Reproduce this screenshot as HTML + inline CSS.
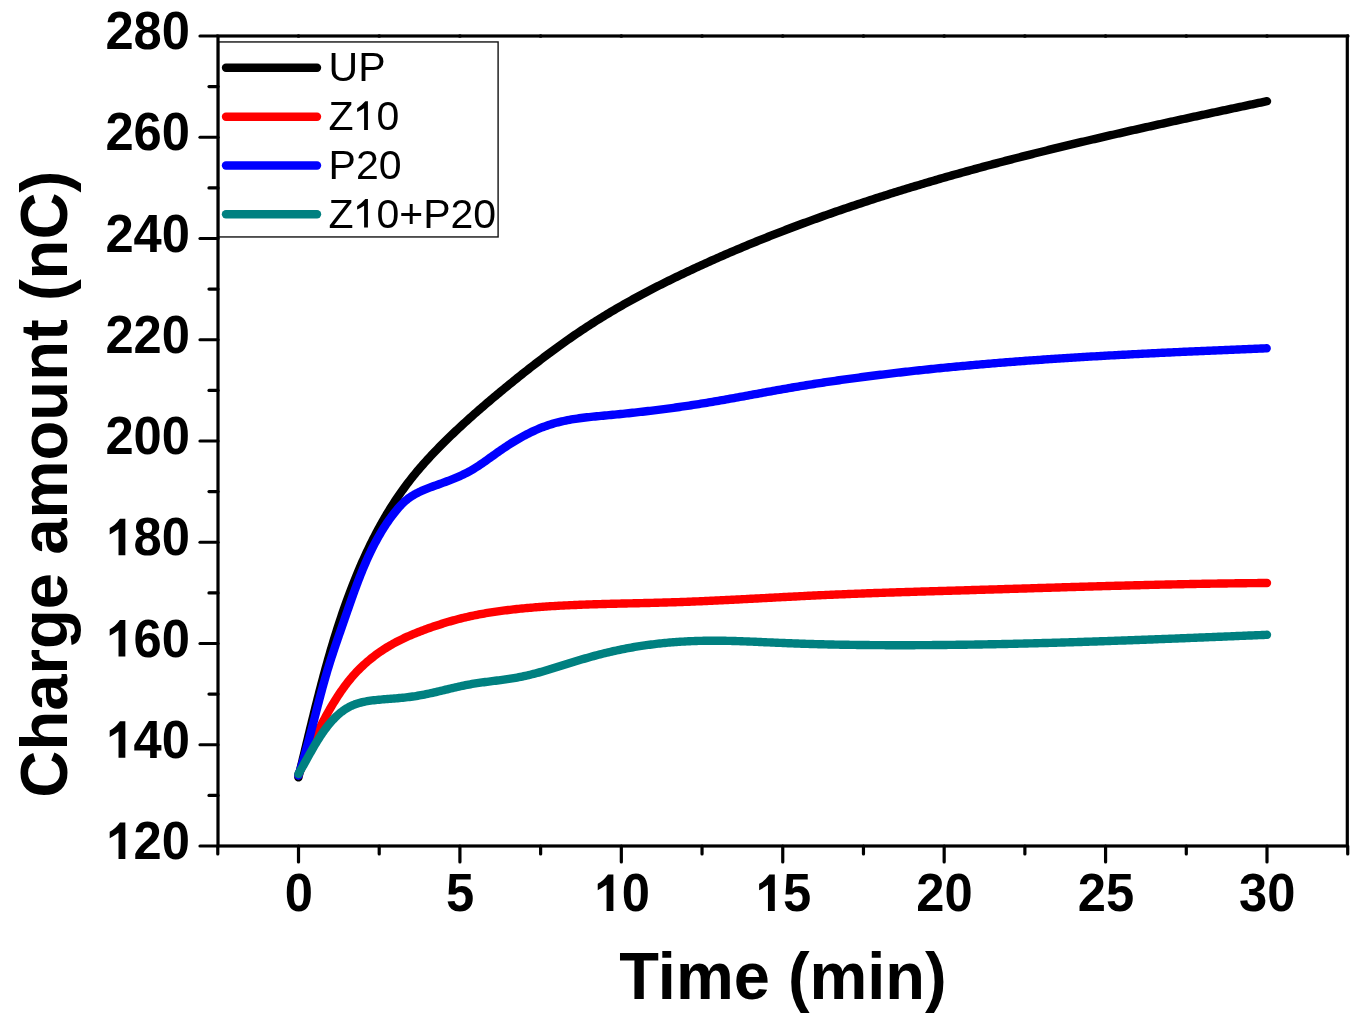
<!DOCTYPE html>
<html><head><meta charset="utf-8"><title>Charge amount vs Time</title>
<style>html,body{margin:0;padding:0;background:#fff;width:1370px;height:1034px;overflow:hidden}
svg{display:block;font-family:"Liberation Sans",sans-serif;will-change:transform}</style></head>
<body>
<svg width="1370" height="1034" viewBox="0 0 1370 1034"><path d="M298.40,777.40 L298.90,775.34 L299.41,773.28 L299.91,771.22 L300.41,769.15 L300.91,767.09 L301.41,765.02 L301.91,762.96 L302.41,760.89 L302.90,758.83 L303.40,756.76 L303.90,754.70 L304.40,752.63 L304.90,750.56 L305.39,748.49 L305.89,746.42 L306.39,744.36 L306.89,742.29 L307.39,740.22 L307.88,738.15 L308.38,736.08 L308.88,734.01 L309.38,731.94 L309.89,729.87 L310.39,727.80 L310.89,725.73 L311.40,723.66 L311.90,721.59 L312.41,719.52 L312.92,717.45 L313.43,715.38 L313.94,713.32 L314.45,711.25 L314.96,709.18 L315.48,707.11 L316.00,705.04 L316.52,702.98 L317.04,700.91 L317.56,698.84 L318.09,696.78 L318.62,694.71 L319.15,692.65 L319.68,690.58 L320.21,688.52 L320.75,686.46 L321.29,684.39 L321.84,682.33 L322.38,680.27 L322.93,678.21 L323.48,676.15 L324.04,674.10 L324.59,672.04 L325.16,669.98 L325.72,667.93 L326.29,665.87 L326.86,663.82 L327.43,661.77 L328.01,659.72 L328.60,657.67 L329.18,655.62 L329.77,653.57 L330.37,651.53 L330.96,649.48 L331.57,647.44 L332.17,645.39 L332.78,643.35 L333.40,641.31 L334.02,639.28 L334.64,637.24 L335.27,635.21 L335.91,633.17 L336.54,631.14 L337.19,629.11 L337.84,627.08 L338.49,625.06 L339.15,623.03 L339.81,621.01 L340.48,618.99 L341.16,616.97 L341.84,614.95 L342.52,612.93 L343.22,610.92 L343.91,608.91 L344.62,606.90 L345.33,604.89 L346.04,602.88 L346.76,600.88 L347.49,598.88 L348.22,596.88 L348.97,594.88 L349.71,592.89 L350.47,590.90 L351.22,588.91 L351.99,586.92 L352.76,584.93 L353.54,582.95 L354.33,580.97 L355.13,578.99 L355.93,577.02 L356.74,575.04 L357.55,573.07 L358.37,571.11 L359.21,569.14 L360.04,567.18 L360.89,565.22 L361.74,563.27 L362.60,561.31 L363.47,559.37 L364.35,557.42 L365.24,555.48 L366.13,553.54 L367.03,551.61 L367.94,549.68 L368.86,547.76 L369.79,545.84 L370.72,543.92 L371.67,542.01 L372.62,540.11 L373.58,538.21 L374.56,536.31 L375.54,534.42 L376.53,532.53 L377.52,530.65 L378.53,528.78 L379.55,526.91 L380.58,525.05 L381.61,523.19 L382.66,521.34 L383.72,519.49 L384.78,517.65 L385.86,515.82 L386.94,514.00 L388.04,512.18 L389.15,510.36 L390.26,508.56 L391.39,506.76 L392.53,504.97 L393.68,503.18 L394.84,501.41 L396.01,499.64 L397.19,497.87 L398.38,496.12 L399.58,494.37 L400.79,492.64 L402.02,490.91 L403.26,489.18 L404.50,487.47 L405.76,485.77 L407.03,484.07 L408.32,482.38 L409.61,480.70 L410.92,479.03 L412.23,477.37 L413.56,475.72 L414.90,474.08 L416.25,472.44 L417.61,470.81 L418.98,469.19 L420.37,467.58 L421.76,465.98 L423.16,464.38 L424.57,462.80 L425.99,461.22 L427.41,459.64 L428.85,458.08 L430.29,456.52 L431.75,454.96 L433.21,453.42 L434.67,451.88 L436.15,450.34 L437.63,448.82 L439.12,447.29 L440.61,445.78 L442.11,444.27 L443.62,442.77 L445.13,441.27 L446.65,439.77 L448.17,438.29 L449.70,436.80 L451.23,435.33 L452.77,433.85 L454.31,432.38 L455.86,430.92 L457.41,429.46 L458.96,428.01 L460.52,426.56 L462.09,425.11 L463.66,423.67 L465.23,422.24 L466.81,420.81 L468.39,419.38 L469.97,417.95 L471.56,416.53 L473.15,415.12 L474.75,413.71 L476.35,412.30 L477.95,410.90 L479.56,409.50 L481.17,408.10 L482.78,406.71 L484.40,405.32 L486.01,403.93 L487.63,402.55 L489.26,401.17 L490.89,399.79 L492.51,398.41 L494.15,397.04 L495.78,395.68 L497.42,394.31 L499.06,392.95 L500.70,391.59 L502.34,390.23 L503.98,388.88 L505.63,387.52 L507.28,386.17 L508.93,384.83 L510.58,383.48 L512.23,382.14 L513.89,380.80 L515.55,379.46 L517.20,378.13 L518.87,376.80 L520.53,375.47 L522.19,374.14 L523.86,372.82 L525.53,371.50 L527.20,370.18 L528.87,368.86 L530.55,367.55 L532.23,366.25 L533.91,364.94 L535.59,363.64 L537.28,362.34 L538.97,361.05 L540.66,359.76 L542.35,358.47 L544.04,357.19 L545.74,355.91 L547.44,354.64 L549.15,353.37 L550.85,352.10 L552.56,350.84 L554.27,349.58 L555.99,348.32 L557.71,347.07 L559.43,345.83 L561.15,344.59 L562.88,343.35 L564.61,342.12 L566.34,340.89 L568.08,339.67 L569.82,338.45 L571.56,337.24 L573.31,336.03 L575.06,334.83 L576.81,333.63 L578.57,332.44 L580.33,331.26 L582.10,330.07 L583.86,328.90 L585.64,327.73 L587.41,326.56 L589.19,325.40 L590.97,324.25 L592.76,323.10 L594.55,321.96 L596.34,320.82 L598.14,319.69 L599.95,318.57 L601.75,317.45 L603.56,316.34 L605.38,315.23 L607.19,314.13 L609.02,313.03 L610.84,311.94 L612.67,310.86 L614.50,309.78 L616.34,308.71 L618.18,307.64 L620.02,306.58 L621.86,305.52 L623.71,304.47 L625.56,303.42 L627.42,302.38 L629.28,301.34 L631.14,300.31 L633.00,299.28 L634.87,298.26 L636.74,297.24 L638.61,296.23 L640.49,295.22 L642.37,294.22 L644.25,293.22 L646.13,292.22 L648.02,291.23 L649.91,290.25 L651.80,289.27 L653.69,288.29 L655.59,287.32 L657.49,286.35 L659.39,285.38 L661.29,284.42 L663.20,283.47 L665.10,282.52 L667.01,281.57 L668.92,280.62 L670.84,279.68 L672.75,278.74 L674.67,277.81 L676.59,276.88 L678.51,275.95 L680.43,275.03 L682.35,274.11 L684.28,273.20 L686.20,272.28 L688.13,271.37 L690.06,270.47 L691.99,269.57 L693.92,268.67 L695.86,267.77 L697.79,266.88 L699.73,265.99 L701.67,265.10 L703.61,264.21 L705.55,263.33 L707.49,262.46 L709.43,261.58 L711.38,260.71 L713.32,259.84 L715.27,258.98 L717.22,258.11 L719.17,257.26 L721.12,256.40 L723.07,255.55 L725.02,254.70 L726.98,253.85 L728.93,253.01 L730.89,252.16 L732.85,251.33 L734.81,250.49 L736.77,249.66 L738.73,248.83 L740.69,248.01 L742.66,247.18 L744.63,246.36 L746.59,245.54 L748.56,244.73 L750.53,243.92 L752.50,243.11 L754.47,242.30 L756.44,241.50 L758.42,240.70 L760.39,239.90 L762.37,239.11 L764.35,238.32 L766.32,237.53 L768.30,236.74 L770.28,235.96 L772.27,235.18 L774.25,234.40 L776.23,233.63 L778.22,232.85 L780.20,232.08 L782.19,231.32 L784.18,230.55 L786.17,229.79 L788.15,229.03 L790.15,228.28 L792.14,227.52 L794.13,226.77 L796.12,226.02 L798.12,225.28 L800.11,224.54 L802.11,223.80 L804.11,223.06 L806.11,222.32 L808.11,221.59 L810.11,220.86 L812.11,220.13 L814.11,219.41 L816.11,218.68 L818.12,217.96 L820.12,217.25 L822.13,216.53 L824.13,215.82 L826.14,215.11 L828.15,214.40 L830.16,213.69 L832.17,212.99 L834.18,212.29 L836.19,211.59 L838.20,210.90 L840.22,210.20 L842.23,209.51 L844.25,208.82 L846.26,208.14 L848.28,207.45 L850.29,206.77 L852.31,206.09 L854.33,205.42 L856.35,204.74 L858.37,204.07 L860.39,203.40 L862.41,202.73 L864.43,202.07 L866.46,201.40 L868.48,200.74 L870.50,200.08 L872.53,199.43 L874.55,198.77 L876.58,198.12 L878.61,197.47 L880.63,196.82 L882.66,196.17 L884.69,195.53 L886.72,194.89 L888.75,194.25 L890.78,193.61 L892.81,192.98 L894.84,192.34 L896.88,191.71 L898.91,191.08 L900.94,190.46 L902.98,189.83 L905.01,189.21 L907.05,188.59 L909.08,187.97 L911.12,187.35 L913.16,186.73 L915.20,186.12 L917.23,185.51 L919.27,184.90 L921.31,184.29 L923.35,183.69 L925.39,183.08 L927.44,182.48 L929.48,181.88 L931.52,181.29 L933.56,180.69 L935.61,180.10 L937.65,179.50 L939.70,178.91 L941.74,178.32 L943.79,177.74 L945.83,177.15 L947.88,176.57 L949.93,175.99 L951.97,175.41 L954.02,174.83 L956.07,174.25 L958.12,173.68 L960.17,173.11 L962.22,172.54 L964.27,171.97 L966.32,171.40 L968.38,170.83 L970.43,170.27 L972.48,169.71 L974.53,169.14 L976.59,168.59 L978.64,168.03 L980.70,167.47 L982.75,166.92 L984.81,166.36 L986.86,165.81 L988.92,165.26 L990.98,164.71 L993.03,164.17 L995.09,163.62 L997.15,163.08 L999.21,162.54 L1001.27,162.00 L1003.33,161.46 L1005.39,160.92 L1007.45,160.38 L1009.51,159.85 L1011.57,159.32 L1013.63,158.78 L1015.69,158.25 L1017.76,157.72 L1019.82,157.20 L1021.88,156.67 L1023.95,156.14 L1026.01,155.62 L1028.07,155.10 L1030.14,154.58 L1032.20,154.06 L1034.27,153.54 L1036.34,153.02 L1038.40,152.51 L1040.47,151.99 L1042.53,151.48 L1044.60,150.97 L1046.67,150.46 L1048.74,149.95 L1050.81,149.44 L1052.87,148.94 L1054.94,148.43 L1057.01,147.93 L1059.08,147.42 L1061.15,146.92 L1063.22,146.42 L1065.29,145.92 L1067.36,145.42 L1069.43,144.92 L1071.51,144.43 L1073.58,143.93 L1075.65,143.44 L1077.72,142.95 L1079.79,142.45 L1081.87,141.96 L1083.94,141.47 L1086.01,140.98 L1088.09,140.50 L1090.16,140.01 L1092.23,139.52 L1094.31,139.04 L1096.38,138.56 L1098.46,138.07 L1100.53,137.59 L1102.61,137.11 L1104.68,136.63 L1106.76,136.15 L1108.84,135.67 L1110.91,135.20 L1112.99,134.72 L1115.07,134.24 L1117.14,133.77 L1119.22,133.30 L1121.30,132.82 L1123.38,132.35 L1125.45,131.88 L1127.53,131.41 L1129.61,130.94 L1131.69,130.47 L1133.77,130.01 L1135.85,129.54 L1137.92,129.07 L1140.00,128.61 L1142.08,128.14 L1144.16,127.68 L1146.24,127.21 L1148.32,126.75 L1150.40,126.29 L1152.48,125.83 L1154.56,125.37 L1156.64,124.91 L1158.72,124.45 L1160.80,123.99 L1162.88,123.53 L1164.96,123.08 L1167.04,122.62 L1169.13,122.16 L1171.21,121.71 L1173.29,121.25 L1175.37,120.80 L1177.45,120.34 L1179.53,119.89 L1181.61,119.44 L1183.70,118.99 L1185.78,118.53 L1187.86,118.08 L1189.94,117.63 L1192.02,117.18 L1194.11,116.73 L1196.19,116.28 L1198.27,115.83 L1200.35,115.39 L1202.44,114.94 L1204.52,114.49 L1206.60,114.04 L1208.68,113.60 L1210.77,113.15 L1212.85,112.70 L1214.93,112.26 L1217.01,111.81 L1219.10,111.37 L1221.18,110.92 L1223.26,110.48 L1225.35,110.04 L1227.43,109.59 L1229.51,109.15 L1231.59,108.70 L1233.68,108.26 L1235.76,107.82 L1237.84,107.38 L1239.93,106.93 L1242.01,106.49 L1244.09,106.05 L1246.17,105.61 L1248.26,105.17 L1250.34,104.73 L1252.42,104.28 L1254.50,103.84 L1256.59,103.40 L1258.67,102.96 L1260.75,102.52 L1262.83,102.08 L1264.92,101.64 L1267.00,101.20" fill="none" stroke="#000" stroke-width="8.4" stroke-linecap="round" stroke-linejoin="round"/>
<path d="M298.40,775.00 L299.08,773.42 L299.77,771.84 L300.46,770.26 L301.15,768.67 L301.84,767.09 L302.53,765.50 L303.22,763.91 L303.91,762.32 L304.61,760.73 L305.31,759.14 L306.01,757.55 L306.72,755.96 L307.42,754.37 L308.13,752.77 L308.85,751.18 L309.57,749.59 L310.29,748.00 L311.01,746.41 L311.74,744.82 L312.47,743.23 L313.21,741.65 L313.95,740.06 L314.69,738.48 L315.44,736.90 L316.20,735.32 L316.96,733.74 L317.73,732.16 L318.50,730.59 L319.28,729.02 L320.06,727.45 L320.85,725.89 L321.65,724.33 L322.45,722.77 L323.26,721.22 L324.07,719.67 L324.90,718.12 L325.73,716.58 L326.56,715.05 L327.41,713.51 L328.26,711.99 L329.12,710.46 L329.99,708.95 L330.87,707.43 L331.75,705.93 L332.65,704.42 L333.55,702.93 L334.46,701.44 L335.38,699.95 L336.32,698.48 L337.26,697.01 L338.21,695.54 L339.17,694.09 L340.14,692.64 L341.13,691.20 L342.12,689.77 L343.13,688.35 L344.15,686.94 L345.19,685.55 L346.23,684.16 L347.30,682.78 L348.37,681.42 L349.46,680.06 L350.57,678.72 L351.69,677.40 L352.82,676.08 L353.97,674.78 L355.14,673.50 L356.32,672.23 L357.52,670.97 L358.73,669.73 L359.95,668.50 L361.19,667.29 L362.45,666.10 L363.72,664.91 L365.00,663.75 L366.30,662.60 L367.60,661.46 L368.93,660.34 L370.26,659.23 L371.61,658.14 L372.98,657.07 L374.35,656.01 L375.74,654.97 L377.13,653.94 L378.55,652.93 L379.97,651.93 L381.40,650.95 L382.85,649.99 L384.30,649.04 L385.77,648.11 L387.25,647.19 L388.73,646.29 L390.23,645.41 L391.74,644.55 L393.26,643.70 L394.79,642.86 L396.32,642.04 L397.87,641.24 L399.42,640.45 L400.98,639.67 L402.55,638.91 L404.13,638.16 L405.71,637.42 L407.30,636.70 L408.90,635.99 L410.50,635.29 L412.11,634.61 L413.73,633.93 L415.35,633.27 L416.97,632.61 L418.60,631.97 L420.24,631.34 L421.88,630.71 L423.52,630.10 L425.16,629.49 L426.81,628.89 L428.46,628.30 L430.11,627.72 L431.77,627.15 L433.43,626.58 L435.09,626.02 L436.75,625.47 L438.41,624.93 L440.08,624.39 L441.75,623.87 L443.42,623.35 L445.09,622.83 L446.77,622.33 L448.44,621.84 L450.12,621.35 L451.80,620.87 L453.48,620.40 L455.17,619.94 L456.85,619.49 L458.54,619.05 L460.23,618.62 L461.93,618.19 L463.62,617.78 L465.32,617.37 L467.02,616.98 L468.72,616.59 L470.42,616.21 L472.12,615.84 L473.83,615.49 L475.54,615.14 L477.25,614.80 L478.96,614.47 L480.67,614.14 L482.38,613.83 L484.10,613.52 L485.82,613.23 L487.54,612.94 L489.26,612.65 L490.98,612.38 L492.70,612.11 L494.43,611.85 L496.15,611.60 L497.88,611.35 L499.60,611.11 L501.33,610.88 L503.06,610.65 L504.79,610.43 L506.52,610.22 L508.25,610.01 L509.99,609.80 L511.72,609.61 L513.45,609.41 L515.19,609.22 L516.92,609.04 L518.66,608.86 L520.39,608.68 L522.13,608.51 L523.86,608.35 L525.60,608.18 L527.34,608.02 L529.08,607.87 L530.81,607.72 L532.55,607.57 L534.29,607.43 L536.03,607.29 L537.77,607.15 L539.50,607.02 L541.24,606.89 L542.98,606.76 L544.72,606.64 L546.46,606.52 L548.20,606.41 L549.94,606.29 L551.68,606.18 L553.42,606.08 L555.17,605.97 L556.91,605.87 L558.65,605.77 L560.39,605.68 L562.13,605.59 L563.87,605.50 L565.62,605.41 L567.36,605.32 L569.10,605.24 L570.85,605.16 L572.59,605.08 L574.33,605.01 L576.08,604.93 L577.82,604.86 L579.56,604.79 L581.31,604.72 L583.05,604.66 L584.80,604.60 L586.54,604.53 L588.28,604.47 L590.03,604.41 L591.77,604.36 L593.52,604.30 L595.26,604.25 L597.01,604.20 L598.76,604.14 L600.50,604.09 L602.25,604.04 L603.99,604.00 L605.74,603.95 L607.48,603.90 L609.23,603.86 L610.98,603.82 L612.72,603.77 L614.47,603.73 L616.21,603.69 L617.96,603.65 L619.71,603.61 L621.45,603.57 L623.20,603.53 L624.95,603.49 L626.69,603.45 L628.44,603.41 L630.19,603.37 L631.93,603.33 L633.68,603.29 L635.43,603.25 L637.17,603.21 L638.92,603.18 L640.67,603.14 L642.41,603.10 L644.16,603.06 L645.91,603.02 L647.65,602.98 L649.40,602.93 L651.14,602.89 L652.89,602.85 L654.64,602.81 L656.38,602.76 L658.13,602.72 L659.88,602.67 L661.62,602.62 L663.37,602.57 L665.11,602.52 L666.86,602.47 L668.61,602.42 L670.35,602.37 L672.10,602.31 L673.84,602.26 L675.59,602.20 L677.33,602.14 L679.08,602.08 L680.82,602.02 L682.57,601.96 L684.31,601.89 L686.06,601.83 L687.80,601.76 L689.55,601.69 L691.29,601.62 L693.04,601.55 L694.78,601.48 L696.53,601.41 L698.27,601.34 L700.01,601.27 L701.76,601.19 L703.50,601.11 L705.25,601.04 L706.99,600.96 L708.73,600.88 L710.48,600.80 L712.22,600.72 L713.97,600.64 L715.71,600.56 L717.45,600.48 L719.20,600.40 L720.94,600.31 L722.68,600.23 L724.43,600.14 L726.17,600.06 L727.91,599.97 L729.66,599.88 L731.40,599.80 L733.14,599.71 L734.89,599.62 L736.63,599.53 L738.37,599.44 L740.12,599.35 L741.86,599.26 L743.60,599.17 L745.35,599.08 L747.09,598.99 L748.83,598.90 L750.57,598.81 L752.32,598.72 L754.06,598.62 L755.80,598.53 L757.55,598.44 L759.29,598.35 L761.03,598.26 L762.77,598.16 L764.52,598.07 L766.26,597.98 L768.00,597.89 L769.75,597.79 L771.49,597.70 L773.23,597.61 L774.97,597.52 L776.72,597.42 L778.46,597.33 L780.20,597.24 L781.95,597.15 L783.69,597.06 L785.43,596.97 L787.17,596.87 L788.92,596.78 L790.66,596.69 L792.40,596.60 L794.15,596.51 L795.89,596.43 L797.63,596.34 L799.37,596.25 L801.12,596.16 L802.86,596.07 L804.60,595.99 L806.35,595.90 L808.09,595.82 L809.83,595.73 L811.58,595.65 L813.32,595.56 L815.06,595.48 L816.81,595.40 L818.55,595.32 L820.29,595.24 L822.04,595.16 L823.78,595.08 L825.52,595.00 L827.27,594.92 L829.01,594.84 L830.75,594.77 L832.50,594.69 L834.24,594.62 L835.99,594.54 L837.73,594.47 L839.47,594.40 L841.22,594.33 L842.96,594.26 L844.71,594.19 L846.45,594.12 L848.19,594.05 L849.94,593.98 L851.68,593.91 L853.43,593.84 L855.17,593.77 L856.91,593.71 L858.66,593.64 L860.40,593.58 L862.15,593.51 L863.89,593.45 L865.64,593.39 L867.38,593.32 L869.13,593.26 L870.87,593.20 L872.61,593.14 L874.36,593.07 L876.10,593.01 L877.85,592.95 L879.59,592.89 L881.34,592.83 L883.08,592.78 L884.83,592.72 L886.57,592.66 L888.32,592.60 L890.06,592.54 L891.81,592.49 L893.55,592.43 L895.30,592.37 L897.04,592.32 L898.79,592.26 L900.53,592.21 L902.28,592.15 L904.02,592.10 L905.76,592.04 L907.51,591.99 L909.25,591.93 L911.00,591.88 L912.74,591.83 L914.49,591.77 L916.23,591.72 L917.98,591.67 L919.72,591.62 L921.47,591.56 L923.22,591.51 L924.96,591.46 L926.71,591.41 L928.45,591.36 L930.20,591.30 L931.94,591.25 L933.69,591.20 L935.43,591.15 L937.18,591.10 L938.92,591.05 L940.67,591.00 L942.41,590.94 L944.16,590.89 L945.90,590.84 L947.65,590.79 L949.39,590.74 L951.14,590.69 L952.88,590.64 L954.63,590.59 L956.37,590.54 L958.12,590.49 L959.86,590.43 L961.61,590.38 L963.35,590.33 L965.10,590.28 L966.84,590.23 L968.59,590.18 L970.33,590.13 L972.08,590.07 L973.82,590.02 L975.57,589.97 L977.31,589.92 L979.06,589.87 L980.80,589.81 L982.55,589.76 L984.29,589.71 L986.04,589.66 L987.78,589.60 L989.53,589.55 L991.27,589.50 L993.02,589.45 L994.76,589.39 L996.51,589.34 L998.25,589.29 L1000.00,589.23 L1001.74,589.18 L1003.49,589.13 L1005.23,589.07 L1006.98,589.02 L1008.72,588.97 L1010.47,588.91 L1012.21,588.86 L1013.96,588.81 L1015.70,588.75 L1017.45,588.70 L1019.19,588.65 L1020.94,588.59 L1022.68,588.54 L1024.43,588.49 L1026.17,588.43 L1027.92,588.38 L1029.66,588.33 L1031.41,588.27 L1033.15,588.22 L1034.90,588.17 L1036.64,588.11 L1038.39,588.06 L1040.13,588.01 L1041.88,587.95 L1043.62,587.90 L1045.37,587.85 L1047.11,587.80 L1048.86,587.74 L1050.60,587.69 L1052.35,587.64 L1054.09,587.58 L1055.83,587.53 L1057.58,587.48 L1059.32,587.43 L1061.07,587.37 L1062.81,587.32 L1064.56,587.27 L1066.30,587.22 L1068.05,587.17 L1069.79,587.11 L1071.54,587.06 L1073.28,587.01 L1075.03,586.96 L1076.77,586.91 L1078.52,586.86 L1080.26,586.81 L1082.01,586.75 L1083.75,586.70 L1085.50,586.65 L1087.24,586.60 L1088.99,586.55 L1090.73,586.50 L1092.48,586.45 L1094.22,586.40 L1095.97,586.35 L1097.71,586.30 L1099.46,586.25 L1101.20,586.20 L1102.95,586.16 L1104.69,586.11 L1106.44,586.06 L1108.18,586.01 L1109.93,585.96 L1111.67,585.91 L1113.42,585.87 L1115.16,585.82 L1116.91,585.77 L1118.65,585.72 L1120.40,585.68 L1122.14,585.63 L1123.88,585.58 L1125.63,585.54 L1127.37,585.49 L1129.12,585.45 L1130.86,585.40 L1132.61,585.36 L1134.35,585.31 L1136.10,585.27 L1137.84,585.22 L1139.59,585.18 L1141.33,585.14 L1143.08,585.09 L1144.82,585.05 L1146.57,585.01 L1148.31,584.96 L1150.06,584.92 L1151.80,584.88 L1153.55,584.84 L1155.29,584.80 L1157.04,584.76 L1158.78,584.71 L1160.53,584.67 L1162.27,584.63 L1164.02,584.59 L1165.77,584.56 L1167.51,584.52 L1169.26,584.48 L1171.00,584.44 L1172.75,584.40 L1174.49,584.36 L1176.24,584.33 L1177.98,584.29 L1179.73,584.25 L1181.47,584.22 L1183.22,584.18 L1184.96,584.15 L1186.71,584.11 L1188.45,584.08 L1190.20,584.04 L1191.94,584.01 L1193.69,583.98 L1195.43,583.94 L1197.18,583.91 L1198.92,583.88 L1200.67,583.85 L1202.41,583.82 L1204.16,583.78 L1205.90,583.75 L1207.65,583.72 L1209.40,583.70 L1211.14,583.67 L1212.89,583.64 L1214.63,583.61 L1216.38,583.58 L1218.12,583.55 L1219.87,583.53 L1221.61,583.50 L1223.36,583.48 L1225.10,583.45 L1226.85,583.43 L1228.60,583.40 L1230.34,583.38 L1232.09,583.35 L1233.83,583.33 L1235.58,583.31 L1237.32,583.29 L1239.07,583.27 L1240.81,583.25 L1242.56,583.23 L1244.31,583.21 L1246.05,583.19 L1247.80,583.17 L1249.54,583.15 L1251.29,583.13 L1253.03,583.12 L1254.78,583.10 L1256.53,583.08 L1258.27,583.07 L1260.02,583.05 L1261.76,583.04 L1263.51,583.02 L1265.25,583.01 L1267.00,583.00" fill="none" stroke="#f00" stroke-width="8.4" stroke-linecap="round" stroke-linejoin="round"/>
<path d="M298.40,775.50 L299.01,773.64 L299.61,771.77 L300.21,769.90 L300.80,768.02 L301.38,766.14 L301.95,764.26 L302.52,762.38 L303.08,760.49 L303.64,758.60 L304.19,756.70 L304.74,754.81 L305.28,752.91 L305.82,751.01 L306.35,749.11 L306.88,747.20 L307.40,745.29 L307.92,743.38 L308.44,741.47 L308.96,739.56 L309.47,737.65 L309.97,735.73 L310.48,733.82 L310.98,731.90 L311.49,729.98 L311.98,728.06 L312.48,726.14 L312.98,724.22 L313.48,722.30 L313.97,720.38 L314.47,718.45 L314.96,716.53 L315.45,714.61 L315.95,712.69 L316.44,710.77 L316.94,708.84 L317.43,706.92 L317.93,705.00 L318.43,703.08 L318.93,701.17 L319.44,699.25 L319.94,697.33 L320.45,695.42 L320.96,693.50 L321.47,691.59 L321.99,689.68 L322.51,687.77 L323.03,685.86 L323.56,683.96 L324.09,682.05 L324.62,680.15 L325.16,678.25 L325.71,676.36 L326.26,674.46 L326.81,672.57 L327.37,670.68 L327.94,668.80 L328.52,666.92 L329.09,665.04 L329.68,663.16 L330.27,661.29 L330.87,659.42 L331.47,657.55 L332.08,655.68 L332.69,653.82 L333.30,651.95 L333.92,650.09 L334.54,648.23 L335.17,646.37 L335.80,644.51 L336.43,642.66 L337.07,640.80 L337.71,638.94 L338.35,637.08 L338.99,635.23 L339.64,633.37 L340.28,631.51 L340.93,629.65 L341.57,627.79 L342.22,625.93 L342.87,624.07 L343.52,622.21 L344.17,620.34 L344.81,618.48 L345.46,616.61 L346.11,614.74 L346.76,612.87 L347.40,610.99 L348.05,609.12 L348.70,607.25 L349.36,605.37 L350.01,603.50 L350.67,601.62 L351.33,599.75 L351.99,597.88 L352.66,596.01 L353.33,594.13 L354.00,592.26 L354.68,590.40 L355.37,588.53 L356.06,586.67 L356.75,584.80 L357.45,582.94 L358.16,581.09 L358.87,579.23 L359.59,577.38 L360.31,575.54 L361.05,573.69 L361.79,571.85 L362.54,570.02 L363.30,568.19 L364.06,566.36 L364.84,564.54 L365.62,562.73 L366.42,560.91 L367.22,559.11 L368.04,557.31 L368.87,555.52 L369.70,553.73 L370.55,551.95 L371.41,550.18 L372.28,548.41 L373.17,546.65 L374.07,544.90 L374.98,543.16 L375.90,541.42 L376.84,539.69 L377.79,537.97 L378.76,536.26 L379.74,534.56 L380.73,532.87 L381.74,531.18 L382.77,529.51 L383.81,527.85 L384.87,526.19 L385.95,524.55 L387.04,522.92 L388.15,521.29 L389.28,519.68 L390.43,518.08 L391.59,516.50 L392.77,514.92 L393.98,513.36 L395.20,511.80 L396.44,510.27 L397.71,508.75 L399.00,507.27 L400.33,505.81 L401.68,504.38 L403.07,503.00 L404.50,501.66 L405.96,500.37 L407.47,499.14 L409.02,497.96 L410.61,496.84 L412.25,495.79 L413.93,494.78 L415.64,493.83 L417.39,492.92 L419.16,492.05 L420.96,491.21 L422.78,490.41 L424.62,489.64 L426.47,488.90 L428.34,488.17 L430.21,487.45 L432.09,486.75 L433.97,486.06 L435.84,485.37 L437.72,484.69 L439.60,484.01 L441.48,483.33 L443.35,482.64 L445.22,481.96 L447.08,481.26 L448.94,480.56 L450.79,479.85 L452.63,479.13 L454.47,478.39 L456.29,477.63 L458.10,476.86 L459.90,476.07 L461.69,475.26 L463.47,474.42 L465.22,473.56 L466.97,472.67 L468.70,471.75 L470.41,470.80 L472.10,469.82 L473.78,468.82 L475.45,467.79 L477.10,466.74 L478.75,465.67 L480.38,464.58 L482.01,463.47 L483.63,462.36 L485.25,461.23 L486.86,460.09 L488.47,458.94 L490.08,457.79 L491.69,456.63 L493.30,455.47 L494.91,454.32 L496.53,453.16 L498.15,452.01 L499.78,450.87 L501.41,449.74 L503.06,448.61 L504.71,447.50 L506.37,446.40 L508.03,445.31 L509.71,444.23 L511.39,443.16 L513.08,442.11 L514.78,441.07 L516.49,440.05 L518.21,439.05 L519.93,438.06 L521.66,437.09 L523.40,436.13 L525.15,435.20 L526.90,434.28 L528.67,433.39 L530.44,432.51 L532.22,431.66 L534.01,430.83 L535.81,430.02 L537.61,429.23 L539.43,428.47 L541.25,427.73 L543.08,427.02 L544.92,426.34 L546.77,425.68 L548.62,425.05 L550.48,424.45 L552.36,423.88 L554.24,423.33 L556.12,422.81 L558.02,422.32 L559.92,421.85 L561.83,421.40 L563.75,420.98 L565.67,420.58 L567.59,420.20 L569.53,419.84 L571.46,419.49 L573.41,419.17 L575.36,418.86 L577.31,418.56 L579.26,418.28 L581.22,418.02 L583.19,417.76 L585.15,417.52 L587.12,417.29 L589.09,417.07 L591.06,416.86 L593.04,416.65 L595.02,416.45 L596.99,416.26 L598.97,416.07 L600.95,415.88 L602.93,415.70 L604.91,415.51 L606.89,415.33 L608.87,415.15 L610.85,414.97 L612.82,414.78 L614.80,414.59 L616.77,414.40 L618.75,414.21 L620.72,414.01 L622.69,413.82 L624.66,413.62 L626.63,413.41 L628.60,413.21 L630.57,413.00 L632.53,412.79 L634.50,412.58 L636.46,412.37 L638.43,412.15 L640.39,411.93 L642.35,411.71 L644.32,411.49 L646.28,411.26 L648.24,411.03 L650.20,410.80 L652.16,410.56 L654.11,410.33 L656.07,410.09 L658.03,409.84 L659.98,409.60 L661.94,409.35 L663.89,409.10 L665.85,408.84 L667.80,408.58 L669.76,408.32 L671.71,408.06 L673.66,407.79 L675.61,407.53 L677.56,407.25 L679.51,406.98 L681.46,406.70 L683.41,406.42 L685.36,406.13 L687.31,405.84 L689.26,405.55 L691.21,405.26 L693.16,404.96 L695.11,404.66 L697.06,404.35 L699.00,404.05 L700.95,403.73 L702.90,403.42 L704.85,403.10 L706.79,402.78 L708.74,402.46 L710.69,402.13 L712.63,401.80 L714.58,401.47 L716.52,401.13 L718.47,400.80 L720.42,400.46 L722.36,400.12 L724.31,399.77 L726.25,399.43 L728.20,399.08 L730.14,398.73 L732.09,398.38 L734.04,398.03 L735.98,397.68 L737.93,397.33 L739.87,396.97 L741.82,396.62 L743.76,396.26 L745.71,395.91 L747.65,395.55 L749.60,395.19 L751.55,394.83 L753.49,394.48 L755.44,394.12 L757.38,393.76 L759.33,393.41 L761.28,393.05 L763.22,392.69 L765.17,392.34 L767.12,391.99 L769.06,391.63 L771.01,391.28 L772.96,390.93 L774.90,390.58 L776.85,390.23 L778.80,389.88 L780.75,389.54 L782.70,389.20 L784.65,388.86 L786.59,388.52 L788.54,388.18 L790.49,387.85 L792.44,387.51 L794.39,387.18 L796.34,386.86 L798.29,386.53 L800.24,386.21 L802.20,385.89 L804.15,385.57 L806.10,385.25 L808.05,384.94 L810.00,384.63 L811.96,384.32 L813.91,384.02 L815.86,383.71 L817.81,383.41 L819.77,383.11 L821.72,382.81 L823.68,382.51 L825.63,382.22 L827.58,381.93 L829.54,381.64 L831.49,381.35 L833.45,381.07 L835.41,380.78 L837.36,380.50 L839.32,380.22 L841.27,379.95 L843.23,379.67 L845.19,379.40 L847.14,379.13 L849.10,378.86 L851.06,378.59 L853.02,378.32 L854.97,378.06 L856.93,377.80 L858.89,377.54 L860.85,377.28 L862.81,377.02 L864.77,376.77 L866.73,376.51 L868.68,376.26 L870.64,376.01 L872.60,375.76 L874.56,375.52 L876.52,375.27 L878.48,375.03 L880.44,374.79 L882.41,374.55 L884.37,374.31 L886.33,374.07 L888.29,373.84 L890.25,373.60 L892.21,373.37 L894.17,373.14 L896.13,372.91 L898.10,372.68 L900.06,372.46 L902.02,372.23 L903.98,372.01 L905.95,371.79 L907.91,371.57 L909.87,371.35 L911.84,371.13 L913.80,370.92 L915.76,370.70 L917.73,370.49 L919.69,370.28 L921.66,370.07 L923.62,369.86 L925.58,369.66 L927.55,369.45 L929.51,369.25 L931.48,369.04 L933.44,368.84 L935.41,368.64 L937.37,368.44 L939.34,368.25 L941.30,368.05 L943.27,367.86 L945.24,367.66 L947.20,367.47 L949.17,367.28 L951.13,367.09 L953.10,366.91 L955.07,366.72 L957.03,366.53 L959.00,366.35 L960.97,366.17 L962.94,365.99 L964.90,365.81 L966.87,365.63 L968.84,365.45 L970.81,365.27 L972.77,365.10 L974.74,364.92 L976.71,364.75 L978.68,364.58 L980.65,364.41 L982.61,364.24 L984.58,364.07 L986.55,363.91 L988.52,363.74 L990.49,363.58 L992.46,363.41 L994.43,363.25 L996.40,363.09 L998.37,362.93 L1000.33,362.77 L1002.30,362.61 L1004.27,362.46 L1006.24,362.30 L1008.21,362.15 L1010.18,362.00 L1012.15,361.84 L1014.12,361.69 L1016.09,361.54 L1018.06,361.39 L1020.03,361.25 L1022.01,361.10 L1023.98,360.95 L1025.95,360.81 L1027.92,360.66 L1029.89,360.52 L1031.86,360.38 L1033.83,360.24 L1035.80,360.10 L1037.77,359.96 L1039.74,359.82 L1041.72,359.69 L1043.69,359.55 L1045.66,359.41 L1047.63,359.28 L1049.60,359.15 L1051.57,359.01 L1053.55,358.88 L1055.52,358.75 L1057.49,358.62 L1059.46,358.49 L1061.44,358.37 L1063.41,358.24 L1065.38,358.11 L1067.35,357.99 L1069.33,357.86 L1071.30,357.74 L1073.27,357.62 L1075.24,357.50 L1077.22,357.37 L1079.19,357.25 L1081.16,357.13 L1083.13,357.02 L1085.11,356.90 L1087.08,356.78 L1089.05,356.66 L1091.03,356.55 L1093.00,356.43 L1094.97,356.32 L1096.95,356.21 L1098.92,356.09 L1100.89,355.98 L1102.87,355.87 L1104.84,355.76 L1106.81,355.65 L1108.79,355.54 L1110.76,355.43 L1112.73,355.32 L1114.71,355.22 L1116.68,355.11 L1118.66,355.00 L1120.63,354.90 L1122.60,354.79 L1124.58,354.69 L1126.55,354.58 L1128.53,354.48 L1130.50,354.38 L1132.47,354.28 L1134.45,354.18 L1136.42,354.08 L1138.40,353.98 L1140.37,353.88 L1142.34,353.78 L1144.32,353.68 L1146.29,353.58 L1148.27,353.48 L1150.24,353.39 L1152.21,353.29 L1154.19,353.20 L1156.16,353.10 L1158.14,353.00 L1160.11,352.91 L1162.09,352.82 L1164.06,352.72 L1166.03,352.63 L1168.01,352.54 L1169.98,352.45 L1171.96,352.35 L1173.93,352.26 L1175.91,352.17 L1177.88,352.08 L1179.85,351.99 L1181.83,351.90 L1183.80,351.81 L1185.78,351.72 L1187.75,351.63 L1189.73,351.55 L1191.70,351.46 L1193.67,351.37 L1195.65,351.28 L1197.62,351.20 L1199.60,351.11 L1201.57,351.02 L1203.54,350.94 L1205.52,350.85 L1207.49,350.77 L1209.47,350.68 L1211.44,350.60 L1213.41,350.51 L1215.39,350.43 L1217.36,350.34 L1219.34,350.26 L1221.31,350.18 L1223.28,350.09 L1225.26,350.01 L1227.23,349.93 L1229.21,349.85 L1231.18,349.76 L1233.15,349.68 L1235.13,349.60 L1237.10,349.52 L1239.07,349.43 L1241.05,349.35 L1243.02,349.27 L1244.99,349.19 L1246.97,349.11 L1248.94,349.03 L1250.92,348.95 L1252.89,348.86 L1254.86,348.78 L1256.83,348.70 L1258.81,348.62 L1260.78,348.54 L1262.75,348.46 L1264.73,348.38 L1266.70,348.30" fill="none" stroke="#00f" stroke-width="8.4" stroke-linecap="round" stroke-linejoin="round"/>
<path d="M298.40,774.00 L299.25,772.57 L300.09,771.13 L300.92,769.69 L301.75,768.24 L302.58,766.78 L303.40,765.32 L304.22,763.86 L305.04,762.39 L305.86,760.92 L306.67,759.45 L307.49,757.97 L308.31,756.50 L309.13,755.02 L309.96,753.54 L310.79,752.07 L311.62,750.59 L312.46,749.12 L313.31,747.65 L314.17,746.18 L315.03,744.71 L315.90,743.25 L316.79,741.80 L317.69,740.34 L318.59,738.90 L319.51,737.46 L320.45,736.03 L321.40,734.60 L322.36,733.18 L323.34,731.77 L324.34,730.37 L325.36,728.99 L326.40,727.61 L327.45,726.25 L328.52,724.90 L329.61,723.58 L330.72,722.27 L331.85,720.99 L333.00,719.73 L334.18,718.50 L335.37,717.30 L336.58,716.13 L337.82,714.99 L339.07,713.89 L340.35,712.82 L341.65,711.79 L342.98,710.80 L344.32,709.85 L345.70,708.95 L347.09,708.10 L348.51,707.29 L349.95,706.53 L351.42,705.83 L352.91,705.17 L354.43,704.57 L355.97,704.01 L357.52,703.50 L359.10,703.02 L360.69,702.59 L362.30,702.19 L363.92,701.83 L365.56,701.50 L367.21,701.20 L368.87,700.92 L370.54,700.67 L372.22,700.45 L373.91,700.24 L375.60,700.05 L377.30,699.88 L379.00,699.71 L380.70,699.56 L382.40,699.42 L384.11,699.28 L385.81,699.15 L387.50,699.01 L389.20,698.88 L390.89,698.75 L392.59,698.62 L394.28,698.48 L395.96,698.34 L397.65,698.20 L399.33,698.05 L401.01,697.89 L402.69,697.73 L404.37,697.56 L406.04,697.38 L407.72,697.19 L409.39,696.98 L411.05,696.77 L412.72,696.53 L414.38,696.29 L416.04,696.03 L417.70,695.75 L419.36,695.47 L421.01,695.16 L422.66,694.85 L424.31,694.53 L425.96,694.20 L427.61,693.85 L429.26,693.50 L430.91,693.14 L432.55,692.78 L434.19,692.40 L435.84,692.03 L437.48,691.64 L439.12,691.26 L440.76,690.87 L442.41,690.48 L444.05,690.09 L445.69,689.69 L447.33,689.30 L448.98,688.91 L450.62,688.52 L452.26,688.13 L453.91,687.75 L455.55,687.37 L457.20,687.00 L458.85,686.63 L460.49,686.27 L462.15,685.91 L463.80,685.57 L465.45,685.23 L467.11,684.91 L468.76,684.59 L470.42,684.29 L472.08,683.99 L473.75,683.71 L475.41,683.45 L477.08,683.19 L478.75,682.94 L480.42,682.69 L482.09,682.46 L483.77,682.23 L485.44,682.01 L487.11,681.79 L488.79,681.58 L490.46,681.36 L492.14,681.15 L493.82,680.94 L495.49,680.73 L497.17,680.52 L498.84,680.31 L500.51,680.09 L502.19,679.87 L503.86,679.65 L505.53,679.41 L507.20,679.18 L508.87,678.93 L510.53,678.68 L512.20,678.41 L513.86,678.14 L515.52,677.85 L517.17,677.56 L518.83,677.24 L520.48,676.92 L522.13,676.58 L523.77,676.23 L525.42,675.87 L527.06,675.49 L528.70,675.11 L530.33,674.71 L531.97,674.30 L533.60,673.89 L535.23,673.46 L536.86,673.03 L538.49,672.58 L540.11,672.13 L541.74,671.67 L543.36,671.21 L544.98,670.74 L546.60,670.26 L548.22,669.78 L549.84,669.29 L551.46,668.80 L553.08,668.30 L554.70,667.81 L556.31,667.31 L557.93,666.80 L559.54,666.30 L561.16,665.79 L562.77,665.28 L564.39,664.78 L566.00,664.27 L567.62,663.76 L569.23,663.26 L570.85,662.76 L572.47,662.25 L574.08,661.76 L575.70,661.26 L577.32,660.77 L578.94,660.28 L580.56,659.80 L582.18,659.32 L583.80,658.85 L585.43,658.38 L587.05,657.91 L588.67,657.45 L590.30,657.00 L591.93,656.55 L593.56,656.10 L595.19,655.67 L596.82,655.23 L598.45,654.80 L600.08,654.38 L601.71,653.96 L603.35,653.55 L604.99,653.15 L606.62,652.75 L608.26,652.35 L609.90,651.97 L611.55,651.58 L613.19,651.21 L614.83,650.84 L616.48,650.48 L618.13,650.13 L619.77,649.78 L621.43,649.44 L623.08,649.11 L624.73,648.79 L626.38,648.47 L628.04,648.16 L629.70,647.85 L631.36,647.55 L633.02,647.26 L634.68,646.98 L636.34,646.70 L638.00,646.43 L639.67,646.17 L641.33,645.91 L643.00,645.66 L644.67,645.42 L646.34,645.18 L648.00,644.95 L649.68,644.73 L651.35,644.51 L653.02,644.30 L654.69,644.09 L656.37,643.90 L658.04,643.70 L659.72,643.52 L661.40,643.34 L663.07,643.17 L664.75,643.00 L666.43,642.84 L668.11,642.69 L669.79,642.54 L671.47,642.39 L673.16,642.26 L674.84,642.13 L676.52,642.00 L678.20,641.89 L679.89,641.77 L681.57,641.67 L683.26,641.57 L684.94,641.47 L686.63,641.38 L688.31,641.30 L690.00,641.22 L691.68,641.15 L693.37,641.08 L695.06,641.02 L696.75,640.96 L698.43,640.91 L700.12,640.87 L701.81,640.83 L703.49,640.79 L705.18,640.76 L706.87,640.74 L708.56,640.72 L710.24,640.71 L711.93,640.70 L713.62,640.70 L715.31,640.70 L716.99,640.71 L718.68,640.72 L720.37,640.74 L722.05,640.76 L723.74,640.78 L725.43,640.81 L727.12,640.84 L728.80,640.87 L730.49,640.91 L732.18,640.96 L733.86,641.00 L735.55,641.05 L737.24,641.10 L738.92,641.15 L740.61,641.21 L742.30,641.27 L743.98,641.33 L745.67,641.39 L747.36,641.46 L749.04,641.53 L750.73,641.59 L752.42,641.66 L754.10,641.74 L755.79,641.81 L757.48,641.88 L759.16,641.96 L760.85,642.03 L762.54,642.11 L764.22,642.18 L765.91,642.26 L767.60,642.33 L769.28,642.41 L770.97,642.48 L772.66,642.56 L774.34,642.63 L776.03,642.71 L777.72,642.78 L779.40,642.85 L781.09,642.92 L782.78,642.99 L784.46,643.06 L786.15,643.13 L787.84,643.20 L789.52,643.26 L791.21,643.32 L792.90,643.39 L794.58,643.45 L796.27,643.51 L797.96,643.57 L799.64,643.62 L801.33,643.68 L803.02,643.74 L804.71,643.79 L806.39,643.84 L808.08,643.90 L809.77,643.95 L811.45,644.00 L813.14,644.04 L814.83,644.09 L816.52,644.14 L818.20,644.18 L819.89,644.23 L821.58,644.27 L823.27,644.31 L824.95,644.35 L826.64,644.39 L828.33,644.43 L830.01,644.47 L831.70,644.51 L833.39,644.54 L835.08,644.58 L836.76,644.61 L838.45,644.64 L840.14,644.68 L841.83,644.71 L843.51,644.74 L845.20,644.77 L846.89,644.79 L848.58,644.82 L850.26,644.85 L851.95,644.87 L853.64,644.89 L855.33,644.92 L857.01,644.94 L858.70,644.96 L860.39,644.98 L862.08,645.00 L863.77,645.02 L865.45,645.04 L867.14,645.05 L868.83,645.07 L870.52,645.08 L872.20,645.10 L873.89,645.11 L875.58,645.12 L877.27,645.13 L878.96,645.14 L880.64,645.15 L882.33,645.16 L884.02,645.17 L885.71,645.18 L887.39,645.18 L889.08,645.19 L890.77,645.19 L892.46,645.20 L894.15,645.20 L895.83,645.20 L897.52,645.20 L899.21,645.21 L900.90,645.21 L902.58,645.20 L904.27,645.20 L905.96,645.20 L907.65,645.20 L909.34,645.19 L911.02,645.19 L912.71,645.18 L914.40,645.18 L916.09,645.17 L917.77,645.16 L919.46,645.16 L921.15,645.15 L922.84,645.14 L924.53,645.13 L926.21,645.12 L927.90,645.11 L929.59,645.10 L931.28,645.08 L932.96,645.07 L934.65,645.06 L936.34,645.04 L938.03,645.03 L939.72,645.01 L941.40,644.99 L943.09,644.98 L944.78,644.96 L946.47,644.94 L948.15,644.92 L949.84,644.90 L951.53,644.88 L953.22,644.86 L954.91,644.84 L956.59,644.82 L958.28,644.80 L959.97,644.78 L961.66,644.75 L963.34,644.73 L965.03,644.71 L966.72,644.68 L968.41,644.66 L970.09,644.63 L971.78,644.60 L973.47,644.58 L975.16,644.55 L976.85,644.52 L978.53,644.49 L980.22,644.47 L981.91,644.44 L983.60,644.41 L985.28,644.38 L986.97,644.35 L988.66,644.31 L990.35,644.28 L992.03,644.25 L993.72,644.22 L995.41,644.18 L997.10,644.15 L998.78,644.12 L1000.47,644.08 L1002.16,644.05 L1003.85,644.01 L1005.53,643.97 L1007.22,643.94 L1008.91,643.90 L1010.60,643.86 L1012.28,643.83 L1013.97,643.79 L1015.66,643.75 L1017.35,643.71 L1019.03,643.67 L1020.72,643.63 L1022.41,643.59 L1024.10,643.55 L1025.78,643.51 L1027.47,643.46 L1029.16,643.42 L1030.84,643.38 L1032.53,643.34 L1034.22,643.29 L1035.91,643.25 L1037.59,643.21 L1039.28,643.16 L1040.97,643.12 L1042.66,643.07 L1044.34,643.02 L1046.03,642.98 L1047.72,642.93 L1049.41,642.89 L1051.09,642.84 L1052.78,642.79 L1054.47,642.74 L1056.15,642.69 L1057.84,642.64 L1059.53,642.60 L1061.22,642.55 L1062.90,642.50 L1064.59,642.45 L1066.28,642.40 L1067.96,642.34 L1069.65,642.29 L1071.34,642.24 L1073.03,642.19 L1074.71,642.14 L1076.40,642.08 L1078.09,642.03 L1079.77,641.98 L1081.46,641.93 L1083.15,641.87 L1084.84,641.82 L1086.52,641.76 L1088.21,641.71 L1089.90,641.65 L1091.58,641.60 L1093.27,641.54 L1094.96,641.49 L1096.65,641.43 L1098.33,641.37 L1100.02,641.32 L1101.71,641.26 L1103.39,641.20 L1105.08,641.14 L1106.77,641.09 L1108.45,641.03 L1110.14,640.97 L1111.83,640.91 L1113.52,640.85 L1115.20,640.79 L1116.89,640.73 L1118.58,640.67 L1120.26,640.61 L1121.95,640.55 L1123.64,640.49 L1125.32,640.43 L1127.01,640.37 L1128.70,640.31 L1130.39,640.25 L1132.07,640.19 L1133.76,640.12 L1135.45,640.06 L1137.13,640.00 L1138.82,639.94 L1140.51,639.87 L1142.19,639.81 L1143.88,639.75 L1145.57,639.68 L1147.25,639.62 L1148.94,639.56 L1150.63,639.49 L1152.31,639.43 L1154.00,639.36 L1155.69,639.30 L1157.37,639.24 L1159.06,639.17 L1160.75,639.11 L1162.43,639.04 L1164.12,638.98 L1165.81,638.91 L1167.50,638.84 L1169.18,638.78 L1170.87,638.71 L1172.56,638.65 L1174.24,638.58 L1175.93,638.51 L1177.62,638.45 L1179.30,638.38 L1180.99,638.31 L1182.68,638.25 L1184.36,638.18 L1186.05,638.11 L1187.74,638.04 L1189.42,637.98 L1191.11,637.91 L1192.80,637.84 L1194.48,637.77 L1196.17,637.71 L1197.86,637.64 L1199.54,637.57 L1201.23,637.50 L1202.91,637.43 L1204.60,637.37 L1206.29,637.30 L1207.97,637.23 L1209.66,637.16 L1211.35,637.09 L1213.03,637.02 L1214.72,636.95 L1216.41,636.88 L1218.09,636.82 L1219.78,636.75 L1221.47,636.68 L1223.15,636.61 L1224.84,636.54 L1226.53,636.47 L1228.21,636.40 L1229.90,636.33 L1231.59,636.26 L1233.27,636.19 L1234.96,636.12 L1236.65,636.05 L1238.33,635.98 L1240.02,635.91 L1241.70,635.84 L1243.39,635.77 L1245.08,635.71 L1246.76,635.64 L1248.45,635.57 L1250.14,635.50 L1251.82,635.43 L1253.51,635.36 L1255.20,635.29 L1256.88,635.22 L1258.57,635.15 L1260.25,635.08 L1261.94,635.01 L1263.63,634.94 L1265.31,634.87 L1267.00,634.80" fill="none" stroke="#008080" stroke-width="8.4" stroke-linecap="round" stroke-linejoin="round"/>
<rect x="218.5" y="41.95" width="279.6" height="195" fill="none" stroke="#111" stroke-width="1.4"/>
<g stroke="#000" stroke-width="3.2" stroke-linecap="round"><line x1="200.00" y1="846.00" x2="218.00" y2="846.00"/><line x1="209.00" y1="795.38" x2="218.00" y2="795.38"/><line x1="200.00" y1="744.75" x2="218.00" y2="744.75"/><line x1="209.00" y1="694.12" x2="218.00" y2="694.12"/><line x1="200.00" y1="643.50" x2="218.00" y2="643.50"/><line x1="209.00" y1="592.88" x2="218.00" y2="592.88"/><line x1="200.00" y1="542.25" x2="218.00" y2="542.25"/><line x1="209.00" y1="491.62" x2="218.00" y2="491.62"/><line x1="200.00" y1="441.00" x2="218.00" y2="441.00"/><line x1="209.00" y1="390.38" x2="218.00" y2="390.38"/><line x1="200.00" y1="339.75" x2="218.00" y2="339.75"/><line x1="209.00" y1="289.12" x2="218.00" y2="289.12"/><line x1="200.00" y1="238.50" x2="218.00" y2="238.50"/><line x1="209.00" y1="187.88" x2="218.00" y2="187.88"/><line x1="200.00" y1="137.25" x2="218.00" y2="137.25"/><line x1="209.00" y1="86.62" x2="218.00" y2="86.62"/><line x1="200.00" y1="36.00" x2="218.00" y2="36.00"/><line x1="217.79" y1="846.00" x2="217.79" y2="854.00"/><line x1="298.50" y1="846.00" x2="298.50" y2="862.00"/><line x1="379.21" y1="846.00" x2="379.21" y2="854.00"/><line x1="459.92" y1="846.00" x2="459.92" y2="862.00"/><line x1="540.62" y1="846.00" x2="540.62" y2="854.00"/><line x1="621.33" y1="846.00" x2="621.33" y2="862.00"/><line x1="702.04" y1="846.00" x2="702.04" y2="854.00"/><line x1="782.75" y1="846.00" x2="782.75" y2="862.00"/><line x1="863.46" y1="846.00" x2="863.46" y2="854.00"/><line x1="944.17" y1="846.00" x2="944.17" y2="862.00"/><line x1="1024.88" y1="846.00" x2="1024.88" y2="854.00"/><line x1="1105.58" y1="846.00" x2="1105.58" y2="862.00"/><line x1="1186.29" y1="846.00" x2="1186.29" y2="854.00"/><line x1="1267.00" y1="846.00" x2="1267.00" y2="862.00"/><line x1="1347.71" y1="846.00" x2="1347.71" y2="854.00"/></g>
<g fill="#000"><circle cx="298.50" cy="36.00" r="1.85"/><circle cx="379.21" cy="36.00" r="1.85"/><circle cx="459.92" cy="36.00" r="1.85"/><circle cx="540.62" cy="36.00" r="1.85"/><circle cx="621.33" cy="36.00" r="1.85"/><circle cx="702.04" cy="36.00" r="1.85"/><circle cx="782.75" cy="36.00" r="1.85"/><circle cx="863.46" cy="36.00" r="1.85"/><circle cx="944.17" cy="36.00" r="1.85"/><circle cx="1024.88" cy="36.00" r="1.85"/><circle cx="1105.58" cy="36.00" r="1.85"/><circle cx="1186.29" cy="36.00" r="1.85"/><circle cx="1267.00" cy="36.00" r="1.85"/><circle cx="1347.71" cy="36.00" r="1.85"/></g>
<rect x="218.00" y="36.00" width="1129.30" height="810.00" fill="none" stroke="#000" stroke-width="3.2" stroke-linecap="round"/>
<line x1="226" y1="67.8" x2="317" y2="67.8" stroke="#000" stroke-width="8.4" stroke-linecap="round"/>
<text x="328.60" y="81.4" font-size="41" font-family="Liberation Sans" fill="#000">UP</text>
<line x1="226" y1="116.7" x2="317" y2="116.7" stroke="#f00" stroke-width="8.4" stroke-linecap="round"/>
<text x="328.60" y="130.3" font-size="41" font-family="Liberation Sans" fill="#000">Z</text>
<path transform="translate(353.64,130.00)" d="M11.65,-28.72 L14.28,-28.72 L14.28,0 L10.45,0 L10.45,-21.75 Q7.3,-19.5 3.49,-18.1 L3.49,-21.41 Q8.0,-24.6 11.65,-28.72 Z" fill="#000"/>
<text x="376.45" y="130.3" font-size="41" font-family="Liberation Sans" fill="#000">0</text>
<line x1="226" y1="165.5" x2="317" y2="165.5" stroke="#00f" stroke-width="8.4" stroke-linecap="round"/>
<text x="328.60" y="179.1" font-size="41" font-family="Liberation Sans" fill="#000">P20</text>
<line x1="226" y1="214.3" x2="317" y2="214.3" stroke="#008080" stroke-width="8.4" stroke-linecap="round"/>
<text x="328.60" y="227.9" font-size="41" font-family="Liberation Sans" fill="#000">Z</text>
<path transform="translate(353.64,227.60)" d="M11.65,-28.72 L14.28,-28.72 L14.28,0 L10.45,0 L10.45,-21.75 Q7.3,-19.5 3.49,-18.1 L3.49,-21.41 Q8.0,-24.6 11.65,-28.72 Z" fill="#000"/>
<text x="376.45" y="227.9" font-size="41" font-family="Liberation Sans" fill="#000">0+P20</text>
<path transform="translate(105.41,859.00)" d="M14.5,-36.43 L19.94,-36.43 L19.94,0 L13.11,0 L13.11,-26.21 Q8.7,-23.03 4.29,-20.87 L4.29,-27.37 Q9.4,-29.25 14.5,-36.43 Z" fill="#000"/><text transform="translate(133.61,859.00) scale(0.975,1.015)" font-size="52" font-weight="bold" font-family="Liberation Sans">2</text><text transform="translate(161.80,859.00) scale(0.975,1.015)" font-size="52" font-weight="bold" font-family="Liberation Sans">0</text>
<path transform="translate(105.41,757.75)" d="M14.5,-36.43 L19.94,-36.43 L19.94,0 L13.11,0 L13.11,-26.21 Q8.7,-23.03 4.29,-20.87 L4.29,-27.37 Q9.4,-29.25 14.5,-36.43 Z" fill="#000"/><text transform="translate(133.61,757.75) scale(0.975,1.015)" font-size="52" font-weight="bold" font-family="Liberation Sans">4</text><text transform="translate(161.80,757.75) scale(0.975,1.015)" font-size="52" font-weight="bold" font-family="Liberation Sans">0</text>
<path transform="translate(105.41,656.50)" d="M14.5,-36.43 L19.94,-36.43 L19.94,0 L13.11,0 L13.11,-26.21 Q8.7,-23.03 4.29,-20.87 L4.29,-27.37 Q9.4,-29.25 14.5,-36.43 Z" fill="#000"/><text transform="translate(133.61,656.50) scale(0.975,1.015)" font-size="52" font-weight="bold" font-family="Liberation Sans">6</text><text transform="translate(161.80,656.50) scale(0.975,1.015)" font-size="52" font-weight="bold" font-family="Liberation Sans">0</text>
<path transform="translate(105.41,555.25)" d="M14.5,-36.43 L19.94,-36.43 L19.94,0 L13.11,0 L13.11,-26.21 Q8.7,-23.03 4.29,-20.87 L4.29,-27.37 Q9.4,-29.25 14.5,-36.43 Z" fill="#000"/><text transform="translate(133.61,555.25) scale(0.975,1.015)" font-size="52" font-weight="bold" font-family="Liberation Sans">8</text><text transform="translate(161.80,555.25) scale(0.975,1.015)" font-size="52" font-weight="bold" font-family="Liberation Sans">0</text>
<text transform="translate(105.41,454.00) scale(0.975,1.015)" font-size="52" font-weight="bold" font-family="Liberation Sans">2</text><text transform="translate(133.61,454.00) scale(0.975,1.015)" font-size="52" font-weight="bold" font-family="Liberation Sans">0</text><text transform="translate(161.80,454.00) scale(0.975,1.015)" font-size="52" font-weight="bold" font-family="Liberation Sans">0</text>
<text transform="translate(105.41,352.75) scale(0.975,1.015)" font-size="52" font-weight="bold" font-family="Liberation Sans">2</text><text transform="translate(133.61,352.75) scale(0.975,1.015)" font-size="52" font-weight="bold" font-family="Liberation Sans">2</text><text transform="translate(161.80,352.75) scale(0.975,1.015)" font-size="52" font-weight="bold" font-family="Liberation Sans">0</text>
<text transform="translate(105.41,251.50) scale(0.975,1.015)" font-size="52" font-weight="bold" font-family="Liberation Sans">2</text><text transform="translate(133.61,251.50) scale(0.975,1.015)" font-size="52" font-weight="bold" font-family="Liberation Sans">4</text><text transform="translate(161.80,251.50) scale(0.975,1.015)" font-size="52" font-weight="bold" font-family="Liberation Sans">0</text>
<text transform="translate(105.41,150.25) scale(0.975,1.015)" font-size="52" font-weight="bold" font-family="Liberation Sans">2</text><text transform="translate(133.61,150.25) scale(0.975,1.015)" font-size="52" font-weight="bold" font-family="Liberation Sans">6</text><text transform="translate(161.80,150.25) scale(0.975,1.015)" font-size="52" font-weight="bold" font-family="Liberation Sans">0</text>
<text transform="translate(105.41,49.00) scale(0.975,1.015)" font-size="52" font-weight="bold" font-family="Liberation Sans">2</text><text transform="translate(133.61,49.00) scale(0.975,1.015)" font-size="52" font-weight="bold" font-family="Liberation Sans">8</text><text transform="translate(161.80,49.00) scale(0.975,1.015)" font-size="52" font-weight="bold" font-family="Liberation Sans">0</text>
<text transform="translate(284.70,911.00) scale(0.975,1.015)" font-size="52" font-weight="bold" font-family="Liberation Sans">0</text>
<text transform="translate(446.12,911.00) scale(0.975,1.015)" font-size="52" font-weight="bold" font-family="Liberation Sans">5</text>
<path transform="translate(593.44,911.00)" d="M14.5,-36.43 L19.94,-36.43 L19.94,0 L13.11,0 L13.11,-26.21 Q8.7,-23.03 4.29,-20.87 L4.29,-27.37 Q9.4,-29.25 14.5,-36.43 Z" fill="#000"/><text transform="translate(621.63,911.00) scale(0.975,1.015)" font-size="52" font-weight="bold" font-family="Liberation Sans">0</text>
<path transform="translate(754.85,911.00)" d="M14.5,-36.43 L19.94,-36.43 L19.94,0 L13.11,0 L13.11,-26.21 Q8.7,-23.03 4.29,-20.87 L4.29,-27.37 Q9.4,-29.25 14.5,-36.43 Z" fill="#000"/><text transform="translate(783.05,911.00) scale(0.975,1.015)" font-size="52" font-weight="bold" font-family="Liberation Sans">5</text>
<text transform="translate(916.27,911.00) scale(0.975,1.015)" font-size="52" font-weight="bold" font-family="Liberation Sans">2</text><text transform="translate(944.47,911.00) scale(0.975,1.015)" font-size="52" font-weight="bold" font-family="Liberation Sans">0</text>
<text transform="translate(1077.69,911.00) scale(0.975,1.015)" font-size="52" font-weight="bold" font-family="Liberation Sans">2</text><text transform="translate(1105.88,911.00) scale(0.975,1.015)" font-size="52" font-weight="bold" font-family="Liberation Sans">5</text>
<text transform="translate(1239.10,911.00) scale(0.975,1.015)" font-size="52" font-weight="bold" font-family="Liberation Sans">3</text><text transform="translate(1267.30,911.00) scale(0.975,1.015)" font-size="52" font-weight="bold" font-family="Liberation Sans">0</text>
<text transform="translate(783,999.4) scale(1,1.02)" font-size="65" font-weight="bold" text-anchor="middle" font-family="Liberation Sans">Time (min)</text>
<text transform="translate(67.3,484.2) rotate(-90) scale(1,1.02)" x="0" y="0" font-size="65.25" font-weight="bold" text-anchor="middle" font-family="Liberation Sans">Charge amount (nC)</text></svg>
</body></html>
